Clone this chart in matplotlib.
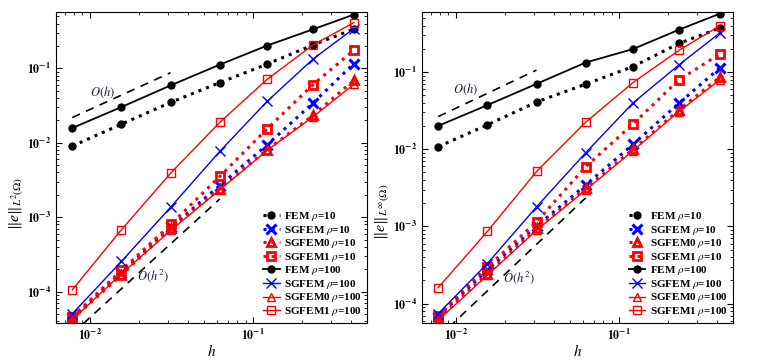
import matplotlib
matplotlib.use('Agg')
import matplotlib.pyplot as plt
import numpy as np
from matplotlib.ticker import NullFormatter

plt.rcParams['font.family'] = ['Liberation Serif', 'DejaVu Serif']
plt.rcParams['mathtext.fontset'] = 'stix'

# --- Data ---
h = [0.0078, 0.0156, 0.0313, 0.0625, 0.122, 0.233, 0.415]

# L2 error
l2_fem_10 = [0.00903, 0.0178, 0.0349, 0.0643, 0.114, 0.206, 0.337]
l2_sgfem_10 = [4.4e-5, 1.81e-4, 7.3e-4, 2.67e-3, 9.4e-3, 0.0342, 0.1156]
l2_sgfem0_10 = [4.3e-5, 1.68e-4, 7.1e-4, 2.42e-3, 8.07e-3, 0.0233, 0.069]
l2_sgfem1_10 = [4.6e-5, 1.93e-4, 8.0e-4, 3.53e-3, 0.0154, 0.0604, 0.175]
l2_fem_100 = [0.0158, 0.0302, 0.0591, 0.112, 0.202, 0.334, 0.527]
l2_sgfem_100 = [5.05e-5, 2.55e-4, 1.37e-3, 7.66e-3, 0.036, 0.133, 0.342]
l2_sgfem0_100 = [4.19e-5, 1.74e-4, 6.65e-4, 2.34e-3, 7.9e-3, 0.0223, 0.061]
l2_sgfem1_100 = [1.06e-4, 6.8e-4, 3.92e-3, 0.0188, 0.0711, 0.206, 0.411]

# Linf error
li_fem_10 = [0.0108, 0.0207, 0.0411, 0.0698, 0.118, 0.235, 0.372]
li_sgfem_10 = [6.8e-5, 2.71e-4, 1.01e-3, 3.44e-3, 0.0116, 0.0395, 0.113]
li_sgfem0_10 = [6.4e-5, 2.45e-4, 9.4e-4, 3.12e-3, 0.0100, 0.0324, 0.086]
li_sgfem1_10 = [7.0e-5, 2.98e-4, 1.15e-3, 5.94e-3, 0.0213, 0.0794, 0.171]
li_fem_100 = [0.0201, 0.0373, 0.0705, 0.133, 0.199, 0.354, 0.571]
li_sgfem_100 = [7.4e-5, 3.3e-4, 1.8e-3, 9.0e-3, 0.0399, 0.124, 0.321]
li_sgfem0_100 = [6.07e-5, 2.33e-4, 8.95e-4, 2.96e-3, 9.6e-3, 0.0308, 0.0794]
li_sgfem1_100 = [1.61e-4, 8.6e-4, 5.18e-3, 0.0224, 0.0733, 0.191, 0.399]

# reference slopes: (h range, constant)
ref_h1 = [0.0078, 0.0312]
ref_h2 = [0.0078, 0.0625]
l2_c1, l2_c2 = 2.8, 0.45
li_c1, li_c2 = 3.4, 0.6

labels = [r'FEM $\rho$=10', r'SGFEM $\rho$=10', r'SGFEM0 $\rho$=10', r'SGFEM1 $\rho$=10',
          r'FEM $\rho$=100', r'SGFEM $\rho$=100', r'SGFEM0 $\rho$=100', r'SGFEM1 $\rho$=100']


def draw_panel(ax, series, c1, c2, ylabel, ylab_y, oh_pos, oh2_pos):
    styles = [
        dict(color='k', ls=':', lw=2.2, marker='o', ms=5, mfc='k'),
        dict(color='b', ls=':', lw=2.2, marker='x', ms=7, mew=2.2),
        dict(color='r', ls=':', lw=2.2, marker='^', ms=6, mfc='none', mew=2.0),
        dict(color='r', ls=':', lw=2.2, marker='s', ms=6, mfc='none', mew=2.0),
        dict(color='k', ls='-', lw=1.3, marker='o', ms=5, mfc='k'),
        dict(color='b', ls='-', lw=1.0, marker='x', ms=7, mew=1.0),
        dict(color='r', ls='-', lw=1.0, marker='^', ms=6, mfc='none', mew=1.0),
        dict(color='r', ls='-', lw=1.0, marker='s', ms=6, mfc='none', mew=1.0),
    ]
    for ys, st, lab in zip(series, styles, labels):
        ax.loglog(h, ys, label=lab, **st)

    hh1 = np.array(ref_h1)
    hh2 = np.array(ref_h2)
    ax.loglog(hh1, c1 * hh1, 'k--', lw=1.2, dashes=(5, 4))
    ax.loglog(hh2, c2 * hh2 ** 2, 'k--', lw=1.2, dashes=(5, 4))
    ax.text(oh_pos[0], oh_pos[1], r'$O(h)$', fontsize=9, ha='center', va='center',
            color='#1a1a3a')
    ax.text(oh2_pos[0], oh2_pos[1], r'$O(h^2)$', fontsize=9, ha='center', va='center',
            color='#1a1a3a')

    ax.set_xlim(0.0062, 0.5)
    ax.set_xticks([1e-2, 1e-1])
    ax.set_xticklabels([r'$\mathbf{10^{-2}}$', r'$\mathbf{10^{-1}}$'])
    ax.set_yticks([1e-4, 1e-3, 1e-2, 1e-1])
    ax.set_yticklabels([r'$\mathbf{10^{-4}}$', r'$\mathbf{10^{-3}}$',
                        r'$\mathbf{10^{-2}}$', r'$\mathbf{10^{-1}}$'])
    ax.xaxis.set_minor_formatter(NullFormatter())
    ax.yaxis.set_minor_formatter(NullFormatter())
    ax.tick_params(which='both', direction='in', top=True, right=True, labelsize=8.5)
    ax.tick_params(which='major', length=4)
    ax.tick_params(which='minor', length=2)

    ax.set_xlabel(r'$h$', fontsize=11, labelpad=0)
    ax.set_ylabel(ylabel, fontsize=11.5)
    ax.yaxis.set_label_coords(-0.1, ylab_y)

    ax.legend(loc='lower right', frameon=False,
              prop={'weight': 'bold', 'size': 8},
              handlelength=1.5, handletextpad=0.4, labelspacing=0.05,
              borderaxespad=0.15, borderpad=0.3)


fig = plt.figure(figsize=(7.75, 3.62), dpi=100)
ax1 = fig.add_axes([0.0723, 0.1077, 0.4013, 0.859])
ax2 = fig.add_axes([0.5445, 0.1077, 0.4013, 0.859])

draw_panel(ax1, [l2_fem_10, l2_sgfem_10, l2_sgfem0_10, l2_sgfem1_10,
                 l2_fem_100, l2_sgfem_100, l2_sgfem0_100, l2_sgfem1_100],
           l2_c1, l2_c2, r'$\Vert e\Vert_{L^2(\Omega)}$', 0.386,
           (0.0119, 0.048), (0.0243, 1.65e-4))
ax1.set_ylim(3.8e-5, 0.57)

draw_panel(ax2, [li_fem_10, li_sgfem_10, li_sgfem0_10, li_sgfem1_10,
                 li_fem_100, li_sgfem_100, li_sgfem0_100, li_sgfem1_100],
           li_c1, li_c2, r'$\Vert e\Vert_{L^\infty(\Omega)}$', 0.357,
           (0.0115, 0.060), (0.0243, 2.15e-4))
ax2.set_ylim(5.6e-5, 0.6)

fig.savefig('out.png', dpi=100)
